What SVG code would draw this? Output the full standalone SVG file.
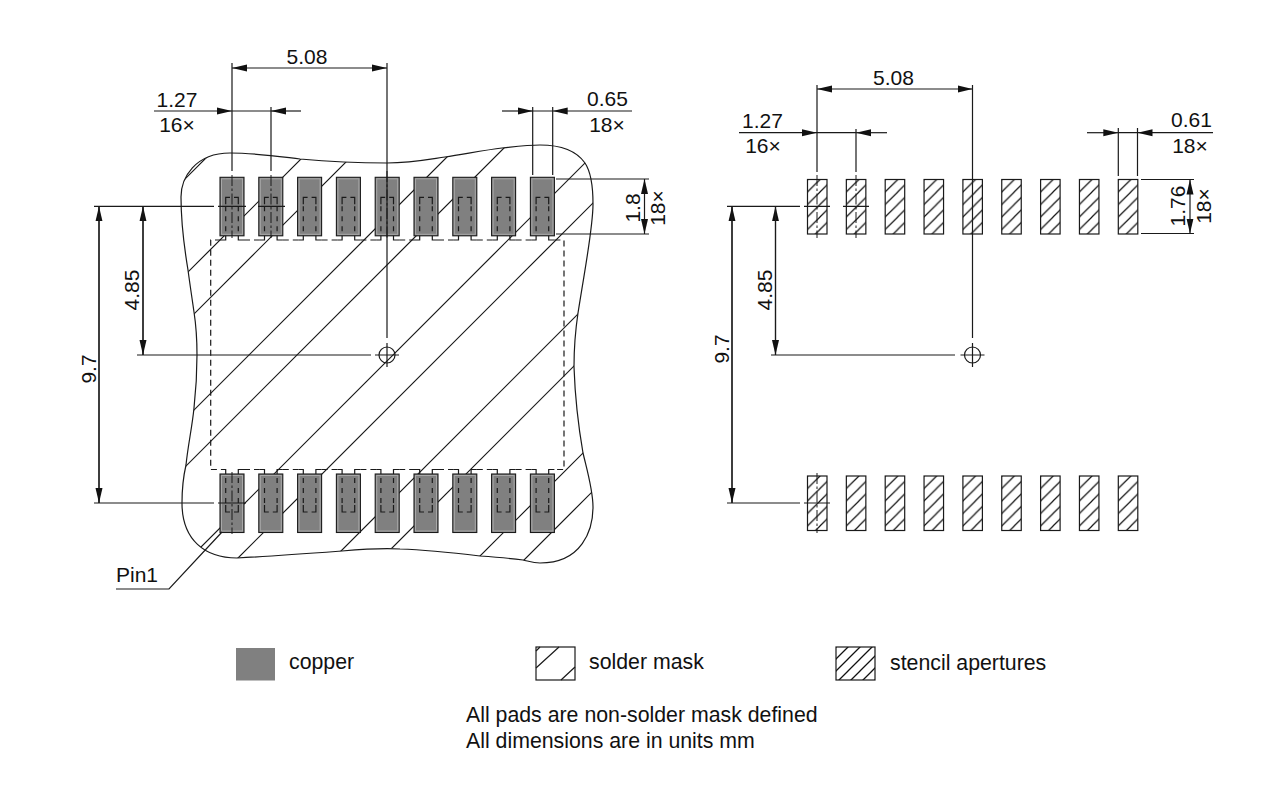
<svg xmlns="http://www.w3.org/2000/svg" xmlns:xlink="http://www.w3.org/1999/xlink" width="1280" height="795" viewBox="0 0 1280 795">
<style>
text{font-family:"Liberation Sans",Arial,sans-serif;font-size:21px;fill:#111}
.t{font-size:21.3px}
.l{fill:none;stroke:#1a1a1a;stroke-width:1.2}
.h{fill:none;stroke:#1a1a1a;stroke-width:1.2}
.a{fill:none;stroke:#1a1a1a;stroke-width:1.2;marker-end:url(#ah)}
.b{fill:none;stroke:#1a1a1a;stroke-width:1.2;marker-start:url(#ah);marker-end:url(#ah)}
.d{fill:none;stroke:#1a1a1a;stroke-width:1.2;stroke-dasharray:6 4}
.c{fill:none;stroke:#1a1a1a;stroke-width:1;stroke-dasharray:11 2.5 2.5 2.5}
.m{text-anchor:middle}
</style>
<defs>
<marker id="ah" markerUnits="userSpaceOnUse" markerWidth="16" markerHeight="8" refX="15" refY="4" orient="auto-start-reverse"><path d="M0,0.5 L15,4 L0,7.5 z" fill="#111"/></marker>
<clipPath id="blobclip"><path d="M230,153 C255,153 275,156 300,159 C322,161 350,163 387,163 C410,163 425,160 445,157 C465,154 485,150 502,148 C520,146 530,145 540,145 C565,145 578,153 585,163 C591,172 593,190 593,204 C593,228 586,262 578,313 C575,333 574,350 574,367 C575,395 579,430 583,453 C587,470 593,490 593,507 C593,530 582,563 540,563 C533,563 528,561 523,560 C508,558 495,557 480,556 C455,553 430,550 400,549 C385,548 365,549 342,551 C315,553 275,556 237,558 C205,558 182,540 182,503 C182,490 183,478 186,465 C188,445 192,428 194,408 C196,390 197,372 197,355 C197,340 196,325 194,312 C192,298 190,285 188,270 C186,258 181,225 181,197 C181,178 195,153 230,153 Z"/></clipPath>
<pattern id="st" patternUnits="userSpaceOnUse" width="12.5" height="12.5"><path d="M-1,1 L1,-1 M0,12.5 L12.5,0 M11.5,13.5 L13.5,11.5" stroke="#111" stroke-width="1.2" fill="none"/></pattern>
<pattern id="st2" patternUnits="userSpaceOnUse" width="12" height="12" x="836" y="647"><path d="M-1,1 L1,-1 M0,12 L12,0 M11,13 L13,11" stroke="#111" stroke-width="1.3" fill="none"/></pattern>
<g id="padT">
<rect x="0" y="0" width="24" height="58.5" fill="#808080" stroke="#1a1a1a" stroke-width="1.1"/>
<rect x="1.5" y="1.5" width="21" height="55.5" fill="none" stroke="#a8a8a8" stroke-width="1"/>
<path class="l" d="M5.7,27 V20 H10 M18.3,27 V20 H14"/>
<path d="M5.7,29 V58 M18.3,29 V58" fill="none" stroke="#1a1a1a" stroke-width="1.2" stroke-dasharray="5 5"/>
<path class="l" d="M5.7,58.5 V62.7 H1 M18.3,58.5 V62.7 H24"/>
</g>
<g id="padB">
<rect x="0" y="0" width="24" height="58.5" fill="#808080" stroke="#1a1a1a" stroke-width="1.1"/>
<rect x="1.5" y="1.5" width="21" height="55.5" fill="none" stroke="#a8a8a8" stroke-width="1"/>
<path class="l" d="M5.7,31 V38 H10 M18.3,31 V38 H14"/>
<path d="M5.7,29 V0 M18.3,29 V0" fill="none" stroke="#1a1a1a" stroke-width="1.2" stroke-dasharray="5 5"/>
<path class="l" d="M5.7,0 V-4.5 H1 M18.3,0 V-4.5 H24"/>
</g>
<rect id="sten" width="19.5" height="54.5" fill="url(#st)" stroke="#1a1a1a" stroke-width="1.2"/>
</defs>
<rect width="1280" height="795" fill="#fff"/>

<g id="solder-mask">
<path class="l" d="M230,153 C255,153 275,156 300,159 C322,161 350,163 387,163 C410,163 425,160 445,157 C465,154 485,150 502,148 C520,146 530,145 540,145 C565,145 578,153 585,163 C591,172 593,190 593,204 C593,228 586,262 578,313 C575,333 574,350 574,367 C575,395 579,430 583,453 C587,470 593,490 593,507 C593,530 582,563 540,563 C533,563 528,561 523,560 C508,558 495,557 480,556 C455,553 430,550 400,549 C385,548 365,549 342,551 C315,553 275,556 237,558 C205,558 182,540 182,503 C182,490 183,478 186,465 C188,445 192,428 194,408 C196,390 197,372 197,355 C197,340 196,325 194,312 C192,298 190,285 188,270 C186,258 181,225 181,197 C181,178 195,153 230,153 Z"/>
<g clip-path="url(#blobclip)">
<path class="h" d="M164,200 L264,100 M160,300 L360,100 M160,348 L408,100 M160,444 L504,100 M160,492 L552,100 M160,588 L648,100 M160,636 L696,100 M250,642 L700,192 M300,640 L700,240 M400,636 L700,336 M450,634 L700,384"/>
</g>
</g>

<g id="copper-pads">
<use id="pad-t1" xlink:href="#padT" href="#padT" x="220" y="177.3"/>
<use id="pad-t2" xlink:href="#padT" href="#padT" x="258.8" y="177.3"/>
<use id="pad-t3" xlink:href="#padT" href="#padT" x="297.6" y="177.3"/>
<use id="pad-t4" xlink:href="#padT" href="#padT" x="336.4" y="177.3"/>
<use id="pad-t5" xlink:href="#padT" href="#padT" x="375.2" y="177.3"/>
<use id="pad-t6" xlink:href="#padT" href="#padT" x="414" y="177.3"/>
<use id="pad-t7" xlink:href="#padT" href="#padT" x="452.8" y="177.3"/>
<use id="pad-t8" xlink:href="#padT" href="#padT" x="491.6" y="177.3"/>
<use id="pad-t9" xlink:href="#padT" href="#padT" x="530.4" y="177.3"/>
<use id="pad-b1" xlink:href="#padB" href="#padB" x="220" y="474"/>
<use id="pad-b2" xlink:href="#padB" href="#padB" x="258.8" y="474"/>
<use id="pad-b3" xlink:href="#padB" href="#padB" x="297.6" y="474"/>
<use id="pad-b4" xlink:href="#padB" href="#padB" x="336.4" y="474"/>
<use id="pad-b5" xlink:href="#padB" href="#padB" x="375.2" y="474"/>
<use id="pad-b6" xlink:href="#padB" href="#padB" x="414" y="474"/>
<use id="pad-b7" xlink:href="#padB" href="#padB" x="452.8" y="474"/>
<use id="pad-b8" xlink:href="#padB" href="#padB" x="491.6" y="474"/>
<use id="pad-b9" xlink:href="#padB" href="#padB" x="530.4" y="474"/>
</g>
<g id="paste-outline">
<path class="d" d="M221,240 H210.7 V469.5 H221 M554.4,240 H564 V469.5 H554.4 M244,240H259.8 M282.8,240H298.6 M321.6,240H337.4 M360.4,240H376.2 M399.2,240H415 M438,240H453.8 M476.8,240H492.6 M515.6,240H531.4 M244,469.5H259.8 M282.8,469.5H298.6 M321.6,469.5H337.4 M360.4,469.5H376.2 M399.2,469.5H415 M438,469.5H453.8 M476.8,469.5H492.6 M515.6,469.5H531.4"/>
</g>

<g id="stencil-pads">
<use id="st-t1" xlink:href="#sten" href="#sten" x="807.5" y="179.5"/>
<use id="st-t2" xlink:href="#sten" href="#sten" x="846.35" y="179.5"/>
<use id="st-t3" xlink:href="#sten" href="#sten" x="885.2" y="179.5"/>
<use id="st-t4" xlink:href="#sten" href="#sten" x="924.05" y="179.5"/>
<use id="st-t5" xlink:href="#sten" href="#sten" x="962.9" y="179.5"/>
<use id="st-t6" xlink:href="#sten" href="#sten" x="1001.75" y="179.5"/>
<use id="st-t7" xlink:href="#sten" href="#sten" x="1040.6" y="179.5"/>
<use id="st-t8" xlink:href="#sten" href="#sten" x="1079.45" y="179.5"/>
<use id="st-t9" xlink:href="#sten" href="#sten" x="1118.3" y="179.5"/>
<use id="st-b1" xlink:href="#sten" href="#sten" x="807.5" y="476"/>
<use id="st-b2" xlink:href="#sten" href="#sten" x="846.35" y="476"/>
<use id="st-b3" xlink:href="#sten" href="#sten" x="885.2" y="476"/>
<use id="st-b4" xlink:href="#sten" href="#sten" x="924.05" y="476"/>
<use id="st-b5" xlink:href="#sten" href="#sten" x="962.9" y="476"/>
<use id="st-b6" xlink:href="#sten" href="#sten" x="1001.75" y="476"/>
<use id="st-b7" xlink:href="#sten" href="#sten" x="1040.6" y="476"/>
<use id="st-b8" xlink:href="#sten" href="#sten" x="1079.45" y="476"/>
<use id="st-b9" xlink:href="#sten" href="#sten" x="1118.3" y="476"/>
</g>

<g id="connectors">
<!-- left view -->
<path class="b" d="M232,68 H387"/>
<path class="l" d="M232,63 V171 M271,107 V171 M387,63 V338 M532.7,107 V175 M552.7,107 V175"/>
<path class="a" d="M154,111 H232"/>
<path class="l" d="M232,111 H271 M532.7,111 H552.7"/>
<path class="a" d="M301,111 H271"/>
<path class="a" d="M502,111 H532.7"/>
<path class="a" d="M632,111 H552.7"/>
<path class="c" d="M232,175 V238 M271,175 V238 M232,472 V534 M387,171 V238"/>
<path class="l" d="M94,206.3 H214 M218,206.3 H246 M258,206.3 H285 M137,355 H371 M94,503 H214 M218,503 H246"/>
<path class="a" d="M99,503 V206.3"/>
<path class="a" d="M99,206.3 V503"/>
<path class="a" d="M143,355 V206.3"/>
<path class="a" d="M143,206.3 V355"/>
<path class="l" d="M556,179 H649 M556,234 H649"/>
<path class="b" d="M644.5,179 V234"/>
<circle class="l" cx="387" cy="355" r="8"/>
<path class="l" d="M375,355 H399 M387,343 V367"/>
<path class="l" d="M116,589 H169 L222,532"/>
<!-- right view -->
<path class="b" d="M817,89 H972.5"/>
<path class="l" d="M817,85 V172 M856,129 V172 M972.5,85 V338 M1118.3,128 V176 M1137.5,128 V176"/>
<path class="a" d="M739,132.7 H817"/>
<path class="l" d="M817,132.7 H856 M1118.3,132.7 H1137.5"/>
<path class="a" d="M887,132.7 H856"/>
<path class="a" d="M1087,132.7 H1118.3"/>
<path class="a" d="M1213,132.7 H1137.5"/>
<path class="c" d="M817,175 V238 M856,175 V238 M972.5,175 V238 M817,473 V533"/>
<path class="l" d="M727,206.3 H800 M804,206.3 H830 M843,206.3 H869 M771,355 H955 M727,503 H800 M804,503 H830"/>
<path class="a" d="M732,503 V206.3"/>
<path class="a" d="M732,206.3 V503"/>
<path class="a" d="M775.5,355 V206.3"/>
<path class="a" d="M775.5,206.3 V355"/>
<path class="l" d="M1141,179.5 H1194 M1141,233.5 H1194"/>
<path class="b" d="M1190,179.5 V233.5"/>
<circle class="l" cx="972.5" cy="355" r="8"/>
<path class="l" d="M960.5,355 H984.5 M972.5,343 V367"/>
</g>

<g id="labels">
<text class="m" x="307" y="64">5.08</text>
<text class="m" x="177" y="106.5">1.27</text>
<text class="m" x="177" y="132">16×</text>
<text class="m" x="607.5" y="106">0.65</text>
<text class="m" x="607" y="132">18×</text>
<text class="m" transform="translate(640,208) rotate(-90)">1.8</text>
<text class="m" transform="translate(665,208) rotate(-90)">18×</text>
<text class="m" transform="translate(139,290) rotate(-90)">4.85</text>
<text class="m" transform="translate(96,369) rotate(-90)">9.7</text>
<text x="116" y="581.5">Pin1</text>
<text class="m" x="893.5" y="85">5.08</text>
<text class="m" x="762.5" y="128">1.27</text>
<text class="m" x="763" y="153">16×</text>
<text class="m" x="1191.5" y="127">0.61</text>
<text class="m" x="1190" y="153">18×</text>
<text class="m" transform="translate(1185,206) rotate(-90)">1.76</text>
<text class="m" transform="translate(1211,206) rotate(-90)">18×</text>
<text class="m" transform="translate(772,290) rotate(-90)">4.85</text>
<text class="m" transform="translate(729,349) rotate(-90)">9.7</text>
</g>

<g id="legend">
<rect x="236" y="648" width="39" height="32.5" fill="#808080"/>
<text class="t" x="289" y="669">copper</text>
<rect class="l" x="536" y="647" width="39" height="33"/>
<path class="h" d="M536,651 L540,647 M536,668 L559,647 M561,680 L575,667"/>
<text class="t" x="589" y="669">solder mask</text>
<rect x="836" y="647" width="39" height="33" fill="url(#st2)" stroke="#1a1a1a" stroke-width="1.2"/>
<text class="t" x="890" y="670">stencil apertures</text>
</g>
<g id="notes">
<text class="t" x="466" y="722">All pads are non-solder mask defined</text>
<text class="t" x="466" y="748">All dimensions are in units mm</text>
</g>
</svg>
